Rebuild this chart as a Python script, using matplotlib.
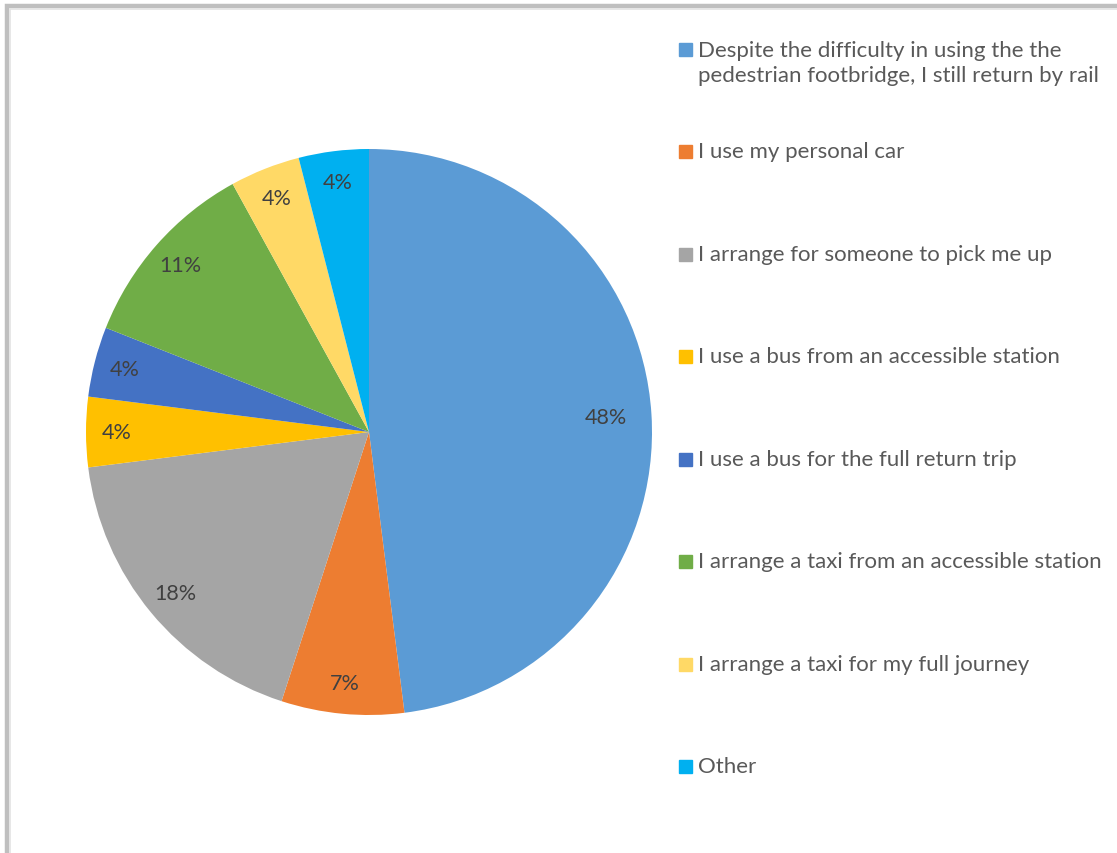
import matplotlib.pyplot as plt
from matplotlib.patches import Rectangle

plt.rcParams['font.family'] = ['Lato', 'DejaVu Sans']

answers = [
    'Despite the difficulty in using the the\npedestrian footbridge, I still return by rail',
    'I use my personal car',
    'I arrange for someone to pick me up',
    'I use a bus from an accessible station',
    'I use a bus for the full return trip',
    'I arrange a taxi from an accessible station',
    'I arrange a taxi for my full journey',
    'Other',
]
shares = [48, 7, 18, 4, 4, 11, 4, 4]
colors = ['#5B9BD5', '#ED7D31', '#A5A5A5', '#FFC000',
          '#4472C4', '#70AD47', '#FFD966', '#00B0F0']

W, H = 1117, 854
fig = plt.figure(figsize=(W / 100, H / 100), dpi=100)

def fx(px):
    return px / W

def fy(py):
    return 1 - py / H

# pie: centre (369, 433) px, radius 283 px
cx, cy, r = 369, 433, 283
ax = fig.add_axes([fx(cx - r), fy(cy + r), 2 * r / W, 2 * r / H])
wedges, texts, pcts = ax.pie(shares, colors=colors, startangle=90, counterclock=False,
                             autopct='%d%%', pctdistance=0.89,
                             textprops=dict(color='#404040', fontsize=15.5))
# the big slice has its label pulled a little towards the centre
x, y = pcts[0].get_position()
pcts[0].set_position((x * 0.84 / 0.89, y * 0.84 / 0.89))
ax.set_xlim(-1, 1)
ax.set_ylim(-1, 1)
ax.set_aspect('auto')
ax.axis('off')

# legend drawn by hand so the key squares sit on the first text line
rows_y = [50, 152, 255, 357, 460, 562, 665, 767]
line_h = 27
sq = 13
for label, col, ry in zip(answers, colors, rows_y):
    fig.patches.append(Rectangle((fx(679), fy(ry + sq / 2)), sq / W, sq / H,
                                 transform=fig.transFigure, color=col))
    n = label.count('\n')
    fig.text(fx(698), fy(ry + n * line_h / 2), label, fontsize=16, color='#595959',
             va='center', linespacing=1.32)

# chart frame, cut off at the right and bottom
fig.patches.append(Rectangle((fx(7), fy(H + 20)), (W + 20) / W, (H + 13) / H,
                             transform=fig.transFigure, fill=False,
                             edgecolor='#BFBFBF', linewidth=3.2))
fig.patches.append(Rectangle((fx(10), fy(H + 20)), (W + 20) / W, (H + 10) / H,
                             transform=fig.transFigure, fill=False,
                             edgecolor='#E3E3E3', linewidth=1.2))

fig.savefig('out.png', dpi=100)
